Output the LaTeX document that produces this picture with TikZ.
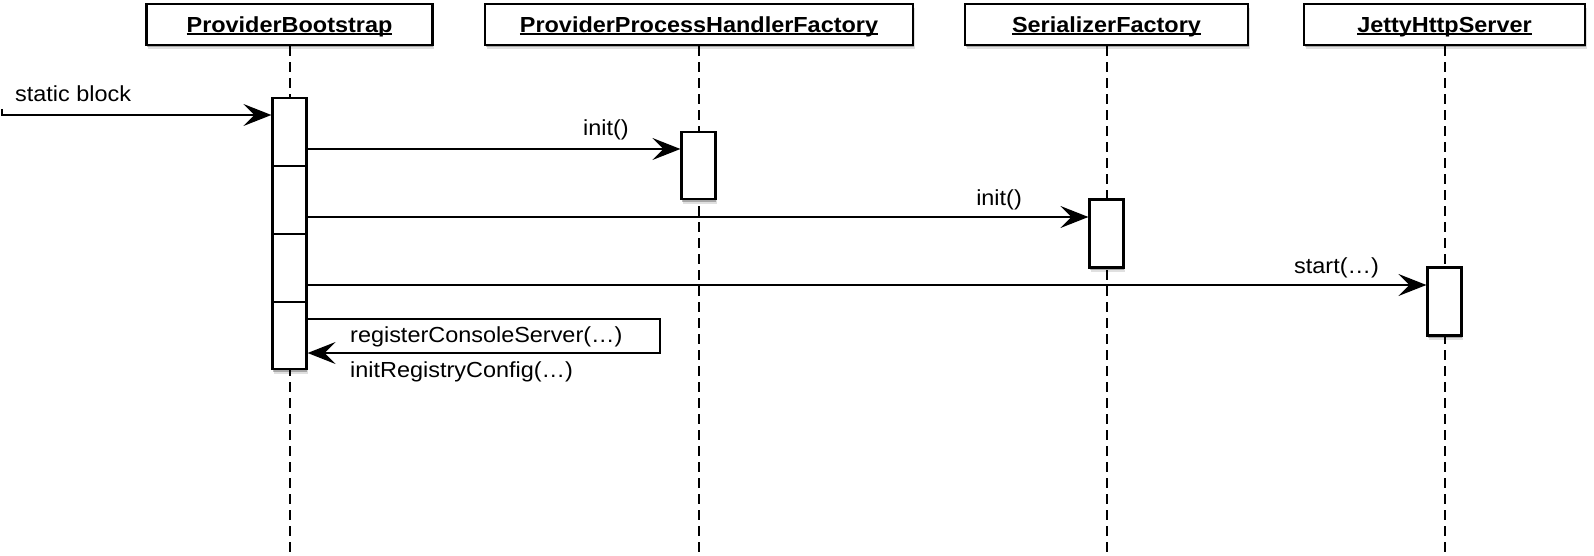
\documentclass[tikz,border=0pt]{standalone}
\usepackage{fontspec}
\setmainfont{Liberation Sans}[FakeStretch=1.075]
\usetikzlibrary{arrows.meta,shadows}
\newsavebox\myulbox
\newcommand{\ulbox}[1]{\sbox\myulbox{#1}\rlap{\rule[-3pt]{\wd\myulbox}{1.8pt}}\usebox\myulbox}
\tikzset{
  shadowed/.style={
    drop shadow={shadow xshift=1.5pt, shadow yshift=-4.5pt, opacity=0.12, fill=black},
    drop shadow={shadow xshift=0.8pt, shadow yshift=-2.5pt, opacity=0.25, fill=black}},
  hdr/.style={draw, line width=2.2pt, fill=white, minimum height=41pt, inner sep=0pt,
    font=\fontsize{21.8}{24}\selectfont\bfseries, text height=15.6pt, text depth=0pt, shadowed},
  act/.style={draw, line width=2.2pt, fill=white, minimum width=34pt, inner sep=0pt, shadowed},
  life/.style={line width=2pt, dash pattern=on 10pt off 6pt},
  divider/.style={line width=2pt},
  msg/.style={line width=2pt, -{Stealth[length=28pt,width=22pt,inset=11pt]}},
  lbl/.style={font=\fontsize{21.8}{24}\selectfont, inner sep=0pt},
}
\begin{document}
\begin{tikzpicture}[x=1pt,y=-1pt]
\useasboundingbox (0,0) rectangle (1594,556);
% headers
\node[hdr, minimum width=286pt] (hPB) at (289.5,24.5) {\ulbox{ProviderBootstrap}};
\node[hdr, minimum width=428pt] (hPP) at (699,24.5) {\ulbox{ProviderProcessHandlerFactory}};
\node[hdr, minimum width=283pt] (hSF) at (1106.5,24.5) {\ulbox{SerializerFactory}};
\node[hdr, minimum width=281pt] (hJS) at (1444.5,24.5) {\ulbox{JettyHttpServer}};
% lifeline ends
\coordinate (ePB) at (289.5,556);
\coordinate (ePP) at (699,556);
\coordinate (eSF) at (1106.5,556);
\coordinate (eJS) at (1444.5,556);
\draw[life] (hPB.south) -- (ePB);
\draw[life] (hPP.south) -- (ePP);
\draw[life] (hSF.south) -- (eSF);
\draw[life] (hJS.south) -- (eJS);
% activation boxes
\node[act, minimum height=271pt] (aPB) at (289.5,233.5) {};
\node[act, minimum height=67pt] (aPP) at (698.5,165.5) {};
\node[act, minimum height=68pt] (aSF) at (1106.5,233.5) {};
\node[act, minimum height=68pt] (aJS) at (1444.5,301.5) {};
\draw[divider] (aPB.west |- 0,166) -- (aPB.east |- 0,166);
\draw[divider] (aPB.west |- 0,234) -- (aPB.east |- 0,234);
\draw[divider] (aPB.west |- 0,302) -- (aPB.east |- 0,302);
% incoming message
\coordinate (src) at (2,109);
\draw[msg] (src) |- (aPB.west |- 0,115);
\node[lbl, anchor=base west] (lsb) at (15,102) {static block};
% calls
\draw[msg] (aPB.east |- 0,149) -- (aPP.west |- 0,149);
\node[lbl, anchor=base east] (l1) at (629,136) {init()};
\draw[msg] (aPB.east |- 0,217) -- (aSF.west |- 0,217);
\node[lbl, anchor=base east] (l2) at (1022,205) {init()};
\draw[msg] (aPB.east |- 0,285) -- (aJS.west |- 0,285);
\node[lbl, anchor=base east] (l3) at (1379,273) {start(…)};
% self message
\coordinate (sr) at (660,319);
\draw[msg] (aPB.east |- sr) -- (sr) -- (sr |- 0,353) -- (aPB.east |- 0,353);
\node[lbl, anchor=base west] (l4) at (350,342.5) {registerConsoleServer(…)};
\node[lbl, anchor=base west] (l5) at (350,377.5) {initRegistryConfig(…)};
\end{tikzpicture}
\end{document}
